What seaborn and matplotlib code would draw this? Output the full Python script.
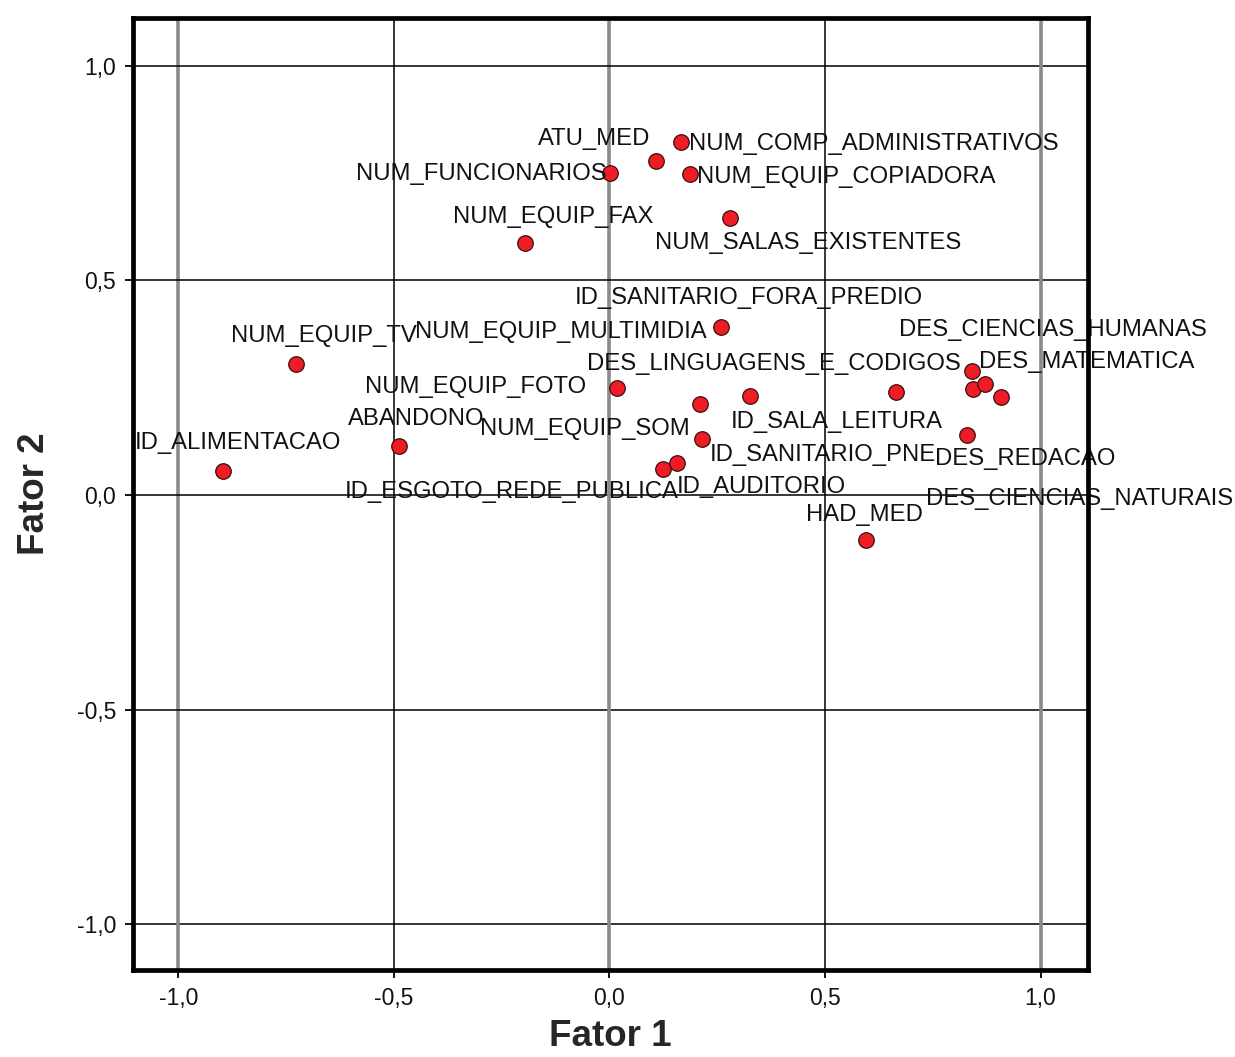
import matplotlib
matplotlib.use("Agg")
import matplotlib.pyplot as plt
import seaborn as sns
import pandas as pd

# ---- data (factor loadings) ----
variables = [
    "ATU_MED", "NUM_COMP_ADMINISTRATIVOS", "NUM_FUNCIONARIOS", "NUM_EQUIP_COPIADORA",
    "NUM_EQUIP_FAX", "NUM_SALAS_EXISTENTES", "NUM_EQUIP_MULTIMIDIA", "ID_SANITARIO_FORA_PREDIO",
    "NUM_EQUIP_FOTO", "NUM_EQUIP_SOM", "ID_SANITARIO_PNE", "ID_ESGOTO_REDE_PUBLICA",
    "ID_AUDITORIO", "ID_SALA_LEITURA", "DES_LINGUAGENS_E_CODIGOS", "DES_CIENCIAS_HUMANAS",
    "DES_MATEMATICA", "DES_CIENCIAS_NATURAIS", "DES_REDACAO", "HAD_MED",
    "NUM_EQUIP_TV", "ABANDONO", "ID_ALIMENTACAO",
]
fator1 = [0.107, 0.166, 0.002, 0.187, -0.196, 0.280, 0.259, 0.327,
          0.017, 0.209, 0.214, 0.125, 0.157, 0.664, 0.842, 0.844,
          0.870, 0.908, 0.829, 0.596, -0.726, -0.488, -0.897]
fator2 = [0.777, 0.822, 0.749, 0.747, 0.586, 0.646, 0.391, 0.230,
          0.249, 0.213, 0.131, 0.061, 0.074, 0.241, 0.288, 0.248,
          0.258, 0.228, 0.140, -0.104, 0.306, 0.114, 0.055]
tick_values = [-1.0, -0.5, 0.0, 0.5, 1.0]
tick_labels = ["-1,0", "-0,5", "0,0", "0,5", "1,0"]

# ---- label placement (pixel offsets from each point, horizontal alignment) ----
label_offsets = {
    "ATU_MED": (-5, 22, "right"),
    "NUM_COMP_ADMINISTRATIVOS": (8, -2, "left"),
    "NUM_FUNCIONARIOS": (-4, -1, "right"),
    "NUM_EQUIP_COPIADORA": (7, -3, "left"),
    "NUM_EQUIP_FAX": (28, 26, "center"),
    "NUM_SALAS_EXISTENTES": (78, -25, "center"),
    "NUM_EQUIP_MULTIMIDIA": (-14, -5, "right"),
    "ID_SANITARIO_FORA_PREDIO": (-2, 98, "center"),
    "NUM_EQUIP_FOTO": (-31, 1, "right"),
    "NUM_EQUIP_SOM": (-10, -25, "right"),
    "ID_SANITARIO_PNE": (8, -16, "left"),
    "ID_ESGOTO_REDE_PUBLICA": (15, -23, "right"),
    "ID_AUDITORIO": (0, -24, "left"),
    "ID_SALA_LEITURA": (47, -30, "right"),
    "DES_LINGUAGENS_E_CODIGOS": (-12, 7, "right"),
    "DES_CIENCIAS_HUMANAS": (-74, 59, "left"),
    "DES_MATEMATICA": (-6, 22, "left"),
    "DES_CIENCIAS_NATURAIS": (-75, -102, "left"),
    "DES_REDACAO": (-32, -24, "left"),
    "HAD_MED": (-2, 25, "center"),
    "NUM_EQUIP_TV": (27, 28, "center"),
    "ABANDONO": (17, 27, "center"),
    "ID_ALIMENTACAO": (15, 28, "center"),
}

df = pd.DataFrame({"variavel": variables, "Fator 1": fator1, "Fator 2": fator2})

sns.set_theme(style="white")
plt.rcParams["font.family"] = ["Liberation Sans", "DejaVu Sans"]

fig = plt.figure(figsize=(12.35, 10.57), dpi=100)
ax = fig.add_axes([133 / 1235, 1 - 970 / 1057, (1088 - 133) / 1235, (970 - 18) / 1057])

# reference grid lines
for v in tick_values:
    ax.axhline(v, color="black", lw=1.1, zorder=1)
    if v in (-0.5, 0.5):
        ax.axvline(v, color="black", lw=1.1, zorder=1)
    else:
        ax.axvline(v, color="#8a8a8a", lw=2.6, zorder=1)

sns.scatterplot(data=df, x="Fator 1", y="Fator 2", ax=ax, color="#ee1c24",
                edgecolor="#3a1010", linewidth=0.9, s=125, zorder=3, legend=False)

for name, x, y in zip(variables, fator1, fator2):
    dx, dy, ha = label_offsets[name]
    ax.annotate(name, (x, y), xytext=(dx, dy), textcoords="offset pixels",
                ha=ha, va="center", fontsize=17.2, color="#111111", zorder=4)

ax.set_xlim(-1.105, 1.11)
ax.set_ylim(-1.106, 1.111)
ax.set_xticks(tick_values)
ax.set_xticklabels(tick_labels)
ax.set_yticks(tick_values)
ax.set_yticklabels(tick_labels)
ax.tick_params(axis="both", direction="out", length=6, width=1.3, color="black",
               labelsize=16.5, labelcolor="#111111", bottom=True, left=True, pad=6)
for sp in ax.spines.values():
    sp.set_color("black")
    sp.set_linewidth(3.4)
    sp.set_zorder(5)

ax.set_xlabel("Fator 1", fontsize=26.5, fontweight="bold", labelpad=7)
ax.set_ylabel("Fator 2", fontsize=26.5, fontweight="bold", labelpad=18)

fig.savefig("out.png", dpi=100)
